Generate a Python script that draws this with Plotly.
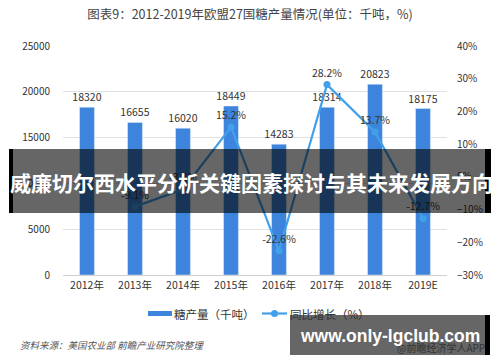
import plotly.graph_objects as go

categories = ["2012年", "2013年", "2014年", "2015年", "2016年", "2017年", "2018年", "2019E"]
sugar_output = [18320, 16655, 16020, 18449, 14283, 18314, 20823, 18175]
yoy_growth = [None, -9.1, -3.8, 15.2, -22.6, 28.2, 13.7, -12.7]

W, H = 500, 362
L, R, T, B = 63, 53, 46, 87
PW = W - L - R
PH = H - T - B

def px(x):
    return (x - L) / PW

def py(y):
    return 1 - (y - T) / PH

FONT = "Noto Sans CJK SC, Noto Sans, sans-serif"
BAR_C = "#3d85dc"
LINE_C = "#42a0ea"

fig = go.Figure()
fig.add_trace(go.Bar(
    x=categories, y=sugar_output, name="糖产量（千吨）",
    marker_color=BAR_C, text=[str(v) for v in sugar_output],
    textposition="outside", constraintext="none",
    textfont=dict(size=10.5, color="#333333"),
    cliponaxis=False, yaxis="y",
))
fig.add_trace(go.Scatter(
    x=categories, y=yoy_growth, name="同比增长（%）", yaxis="y2",
    mode="lines+markers+text",
    line=dict(color=LINE_C, width=2.2),
    marker=dict(size=7, color=LINE_C),
    text=[("" if v is None else f"{v}%") for v in yoy_growth],
    textposition="top center", textfont=dict(size=10.5, color="#333333"),
    cliponaxis=False,
))

shapes = [
    # manual legend
    dict(type="rect", xref="paper", yref="paper", x0=px(148), x1=px(172), y0=py(316), y1=py(311),
         fillcolor=BAR_C, line_width=0),
    dict(type="line", xref="paper", yref="paper", x0=px(262), x1=px(287), y0=py(313.5), y1=py(313.5),
         line=dict(color=LINE_C, width=2.2)),
    dict(type="circle", xref="paper", yref="paper", x0=px(271), x1=px(278), y0=py(317), y1=py(310),
         fillcolor=LINE_C, line_width=0),
    # banner overlay
    dict(type="rect", xref="paper", yref="paper", x0=px(13), x1=px(485), y0=py(213), y1=py(149),
         fillcolor="rgba(0,0,0,0.6)", line_width=0, layer="above"),
    dict(type="rect", xref="paper", yref="paper", x0=px(9), x1=px(13), y0=py(213), y1=py(149),
         fillcolor="black", line_width=0, layer="above"),
    dict(type="rect", xref="paper", yref="paper", x0=px(485), x1=px(491), y0=py(213), y1=py(149),
         fillcolor="black", line_width=0, layer="above"),
    # bottom watermark
    dict(type="rect", xref="paper", yref="paper", x0=px(290), x1=px(485), y0=py(355), y1=py(315),
         fillcolor="rgba(0,0,0,0.6)", line_width=0, layer="above"),
    dict(type="rect", xref="paper", yref="paper", x0=px(485), x1=px(490), y0=py(355), y1=py(315),
         fillcolor="black", line_width=0, layer="above"),
]

annotations = [
    dict(text="糖产量（千吨）", xref="paper", yref="paper",
         x=px(172), y=py(313.5), xanchor="left", yanchor="middle", showarrow=False,
         font=dict(size=11.5, color="#333333", family=FONT)),
    dict(text="同比增长（%）", xref="paper", yref="paper",
         x=px(288), y=py(313.5), xanchor="left", yanchor="middle", showarrow=False,
         font=dict(size=11.5, color="#333333", family=FONT)),
    dict(text="<i>资料来源：美国农业部 前瞻产业研究院整理</i>", xref="paper", yref="paper",
         x=px(18), y=py(345), xanchor="left", yanchor="middle", showarrow=False,
         font=dict(size=9.5, color="#555555", family=FONT)),
    dict(text="@前瞻经济学人APP", xref="paper", yref="paper",
         x=px(487), y=py(347), xanchor="right", yanchor="middle", showarrow=False,
         font=dict(size=10, color="#333333", family=FONT)),
    dict(text="<b>威廉切尔西水平分析关键因素探讨与其未来发展方向</b>", xref="paper", yref="paper",
         x=px(8), y=py(182), xanchor="left", yanchor="middle", showarrow=False,
         font=dict(size=21, color="white", family=FONT)),
    dict(text="<b>www.only-lgclub.com</b>", xref="paper", yref="paper",
         x=px(390), y=py(336), xanchor="center", yanchor="middle", showarrow=False,
         font=dict(size=17.5, color="white", family="Liberation Sans, Arial, sans-serif")),
]

fig.update_layout(
    width=W, height=H,
    margin=dict(l=L, r=R, t=T, b=B),
    paper_bgcolor="white", plot_bgcolor="white",
    font=dict(family=FONT, color="#333333", size=10),
    title=dict(text="图表9：2012-2019年欧盟27国糖产量情况(单位：千吨，%)",
               x=0.5, xref="container", y=1 - 15 / H, yref="container",
               xanchor="center", yanchor="middle",
               font=dict(size=12.5, color="#444444", family=FONT)),
    bargap=0.69,
    showlegend=False,
    xaxis=dict(showgrid=False, showline=True, linecolor="#d0d0d0", ticks="",
               tickfont=dict(size=10.5, color="#333333")),
    yaxis=dict(range=[0, 25000], dtick=5000, tickformat="d", showgrid=True, gridcolor="#e0e0e0",
               zeroline=False, ticks="", tickfont=dict(size=10, color="#333333"),
               ticklabelstandoff=12),
    yaxis2=dict(range=[-30, 40], dtick=10, overlaying="y", side="right", showgrid=False,
                zeroline=False, ticksuffix="%", ticks="",
                tickfont=dict(size=10, color="#333333"), ticklabelstandoff=9),
    shapes=shapes,
    annotations=annotations,
)

fig.write_html("out.html", config={"displayModeBar": False},
               post_script="document.body.style.margin='0';")
